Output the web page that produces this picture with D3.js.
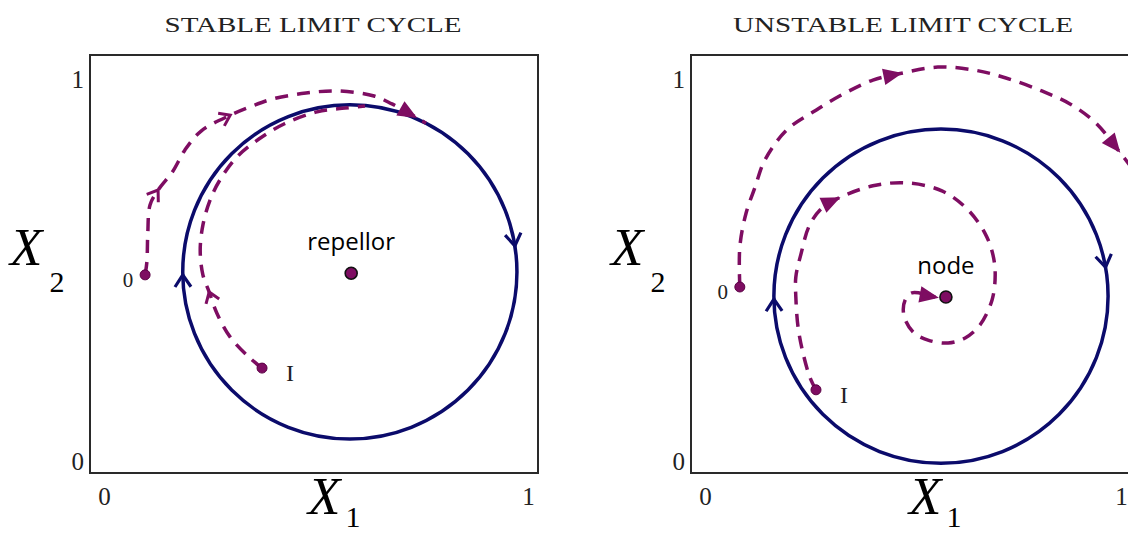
<!DOCTYPE html>
<html>
<head>
<meta charset="utf-8">
<script src="https://cdn.jsdelivr.net/npm/d3@7"></script>
<style>
  html, body { margin: 0; padding: 0; background: #fff; overflow: hidden; }
  svg { display: block; }
</style>
</head>
<body>
<svg id="chart" width="1128" height="537"></svg>
<script>
// ---- data (phase-plane coordinates, both axes 0..1) ----
const panelTitles = ["STABLE LIMIT CYCLE", "UNSTABLE LIMIT CYCLE"];
const tickValues = [0, 1];
const tickLabels = ["0", "1"];

// limit cycle: centre and radius (radius in X1 units)
const cycleCenters = [[0.580, 0.481], [0.558, 0.423]];
const cycleRadii = [0.373, 0.373];
// direction markers on the cycle, polar angle in degrees
const cycleArrowAngles = [[9, 181], [10, 181]];

// fixed point inside the cycle
const fixedPoints = [[0.583, 0.478], [0.569, 0.421]];
const fixedPointNames = ["repellor", "node"];

// trajectories started from initial states "0" and "I"
const stableFrom0 = [
  [0.123, 0.474], [0.127, 0.505], [0.129, 0.574], [0.134, 0.641], [0.152, 0.677],
  [0.185, 0.722], [0.212, 0.773], [0.248, 0.818], [0.313, 0.856], [0.362, 0.878],
  [0.408, 0.895], [0.482, 0.909], [0.554, 0.914], [0.634, 0.902], [0.674, 0.883],
  [0.723, 0.854], [0.750, 0.837]
];
const stableFromI = [
  [0.384, 0.251], [0.357, 0.275], [0.313, 0.325], [0.283, 0.383], [0.266, 0.433],
  [0.252, 0.474], [0.246, 0.533], [0.252, 0.593], [0.268, 0.653], [0.290, 0.701],
  [0.328, 0.756], [0.377, 0.799], [0.433, 0.835], [0.507, 0.864], [0.569, 0.873],
  [0.614, 0.878]
];
const unstableFrom0 = [
  [0.109, 0.445], [0.109, 0.541], [0.123, 0.622], [0.143, 0.684], [0.165, 0.749],
  [0.214, 0.821], [0.279, 0.868], [0.344, 0.909], [0.406, 0.940], [0.464, 0.955],
  [0.551, 0.971], [0.632, 0.964], [0.703, 0.945], [0.783, 0.914], [0.846, 0.883],
  [0.904, 0.837], [0.953, 0.773], [0.991, 0.720]
];
const unstableFromI = [
  [0.279, 0.199], [0.266, 0.227], [0.250, 0.287], [0.239, 0.349], [0.234, 0.421],
  [0.234, 0.469], [0.246, 0.526], [0.263, 0.589], [0.288, 0.629], [0.326, 0.656],
  [0.406, 0.687], [0.482, 0.694], [0.560, 0.675], [0.616, 0.632], [0.656, 0.574],
  [0.674, 0.522], [0.679, 0.474], [0.672, 0.414], [0.645, 0.354], [0.612, 0.323],
  [0.574, 0.311], [0.529, 0.318], [0.496, 0.337], [0.475, 0.378], [0.478, 0.414],
  [0.493, 0.431], [0.545, 0.421]
];
const trajectories = [[stableFrom0, stableFromI], [unstableFrom0, unstableFromI]];
const startLabels = ["0", "I"];
// arrowheads: point index along each trajectory
const trajectoryArrows = [
  [[4, 8, 15], [4]],
  [[9, 16], [9, 26]]
];

// ---- layout ----
const W = 1128, H = 537;
const boxW = 448, boxTop = 55, boxBottom = 473;
const panelLayout = [
  { left: 90,  titleX: 313, titleLen: 297, tickDx: [14, -10],
    arrowKind: [["open", "open", "solid"], ["open"]] },
  { left: 691, titleX: 903, titleLen: 340, tickDx: [14, -18],
    arrowKind: [["solid", "solid"], ["solid", "solid"]] }
];
const purple = "#7e0d62";
const navy = "#0b0b6b";

const svg = d3.select("#chart");
svg.append("rect").attr("width", W).attr("height", H).attr("fill", "#fff");

function arrowPath(kind) {
  return kind === "open" ? "M-10,-7 L0,0 L-10,7" : "M-14,-6 L0,0 L-14,6 Z";
}

panelLayout.forEach((pl, p) => {
  const x = d3.scaleLinear().domain([0, 1]).range([pl.left, pl.left + boxW]);
  const y = d3.scaleLinear().domain([0, 1]).range([boxBottom, boxTop]);
  const g = svg.append("g");

  // title
  g.append("text")
    .attr("x", pl.titleX).attr("y", 32)
    .attr("text-anchor", "middle")
    .attr("textLength", pl.titleLen).attr("lengthAdjust", "spacingAndGlyphs")
    .style("font-family", "'Liberation Serif', 'DejaVu Serif', serif")
    .style("font-size", "22px").style("fill", "#222")
    .text(panelTitles[p]);

  // frame
  g.append("rect")
    .attr("x", x(0)).attr("y", y(1))
    .attr("width", x(1) - x(0)).attr("height", y(0) - y(1))
    .attr("fill", "none").attr("stroke", "#2a2a2a").attr("stroke-width", 2);

  // axes: only the end labels are shown
  const fmt = (d, i) => tickLabels[i];
  const xAxis = g.append("g")
    .attr("transform", `translate(0,${boxBottom})`)
    .call(d3.axisBottom(x).tickValues(tickValues).tickSize(0).tickFormat(fmt));
  xAxis.select(".domain").remove();
  xAxis.selectAll("text")
    .attr("y", 32).attr("dy", 0)
    .attr("dx", (d, i) => pl.tickDx[i])
    .style("font-family", "'Liberation Serif', serif").style("font-size", "25px").style("fill", "#222");

  const yAxis = g.append("g")
    .attr("transform", `translate(${pl.left},0)`)
    .call(d3.axisLeft(y).tickValues(tickValues).tickSize(0).tickFormat(fmt));
  yAxis.select(".domain").remove();
  yAxis.selectAll("text")
    .attr("x", -6).attr("dy", 0)
    .attr("y", (d) => (d === 0 ? -4 : 32))
    .style("font-family", "'Liberation Serif', serif").style("font-size", "25px").style("fill", "#222");

  // axis titles X1 / X2
  const axisTitle = (tx, ty, sub, subDx, subDy) => {
    const t = g.append("text").attr("x", tx).attr("y", ty)
      .style("font-family", "'Liberation Serif', 'DejaVu Serif', serif").style("fill", "#000");
    t.append("tspan").style("font-style", "italic").style("font-size", "53px").text("X");
    t.append("tspan").attr("dx", subDx).attr("dy", subDy)
      .style("font-family", "'Liberation Serif', serif").style("font-size", "30px").text(sub);
  };
  axisTitle(pl.left - 80, 265, "2", 7, 27);
  axisTitle(pl.left + 218, 514, "1", 5, 13);

  // limit cycle
  const c = cycleCenters[p];
  const cx = x(c[0]), cy = y(c[1]);
  const r = x(c[0] + cycleRadii[p]) - x(c[0]);
  g.append("circle")
    .attr("cx", cx).attr("cy", cy).attr("r", r)
    .attr("fill", "none").attr("stroke", navy).attr("stroke-width", 3.5);

  cycleArrowAngles[p].forEach((deg) => {
    const a = deg * Math.PI / 180;
    const px = cx + r * Math.cos(a), py = cy - r * Math.sin(a);
    // clockwise travel on screen
    const ang = Math.atan2(Math.cos(a), Math.sin(a)) * 180 / Math.PI;
    g.append("path")
      .attr("d", "M-12,-8 L0,0 L-12,8")
      .attr("transform", `translate(${px},${py}) rotate(${ang})`)
      .attr("fill", "none").attr("stroke", navy).attr("stroke-width", 3.2)
      .attr("stroke-linejoin", "miter");
  });

  // trajectories
  const line = d3.line()
    .x((d) => x(d[0])).y((d) => y(d[1]))
    .curve(d3.curveCatmullRom.alpha(0.5));

  trajectories[p].forEach((pts, k) => {
    g.append("path")
      .attr("d", line(pts))
      .attr("fill", "none").attr("stroke", purple).attr("stroke-width", 3.5)
      .attr("stroke-dasharray", "13,9");

    trajectoryArrows[p][k].forEach((idx, j) => {
      const a0 = pts[Math.max(0, idx - 1)];
      const a1 = pts[Math.min(pts.length - 1, idx + 1)];
      const ang = Math.atan2(y(a1[1]) - y(a0[1]), x(a1[0]) - x(a0[0])) * 180 / Math.PI;
      const kind = pl.arrowKind[k][j];
      g.append("path")
        .attr("d", arrowPath(kind))
        .attr("transform", `translate(${x(pts[idx][0])},${y(pts[idx][1])}) rotate(${ang})`)
        .attr("fill", kind === "solid" ? purple : "none")
        .attr("stroke", purple).attr("stroke-width", 3)
        .attr("stroke-linejoin", "miter");
    });

    // initial state
    const s = pts[0];
    g.append("circle")
      .attr("cx", x(s[0])).attr("cy", y(s[1])).attr("r", 5)
      .attr("fill", purple).attr("stroke", "#5a0044").attr("stroke-width", 1);
    g.append("text")
      .attr("x", x(s[0]) + (k === 0 ? -17 : 28))
      .attr("y", y(s[1]) + (k === 0 ? 12 : 13))
      .attr("text-anchor", "middle")
      .style("font-family", "'Liberation Serif', serif")
      .style("font-size", k === 0 ? "21px" : "24px").style("fill", "#222")
      .text(startLabels[k]);
  });

  // fixed point
  const f = fixedPoints[p];
  g.append("circle")
    .attr("cx", x(f[0])).attr("cy", y(f[1])).attr("r", 6)
    .attr("fill", purple).attr("stroke", "#111").attr("stroke-width", 1.6);
  g.append("text")
    .attr("x", x(f[0])).attr("y", y(f[1]) - 23)
    .attr("text-anchor", "middle")
    .style("font-family", "'Open Sans', 'Noto Sans', sans-serif")
    .style("font-size", "24px").style("fill", "#000")
    .text(fixedPointNames[p]);
});
</script>
</body>
</html>
